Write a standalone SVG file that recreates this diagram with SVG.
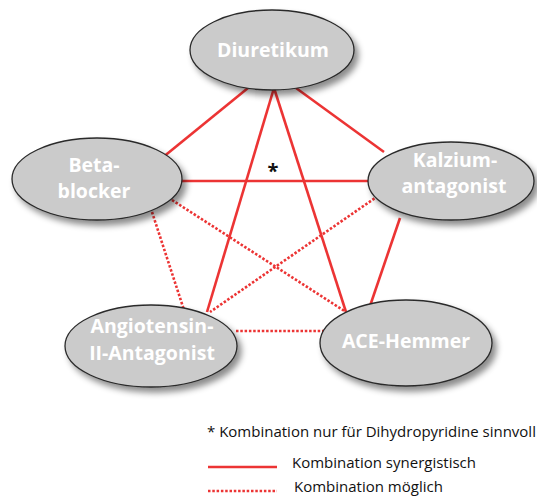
<svg xmlns="http://www.w3.org/2000/svg" width="537" height="497" viewBox="0 0 537 497">
<defs>
<filter id="sh" x="-20%" y="-20%" width="150%" height="160%">
<feDropShadow dx="4" dy="5" stdDeviation="3" flood-color="#000" flood-opacity="0.45"/>
</filter>
</defs>
<style>
.solid{stroke:#ec3434;stroke-width:2.6;fill:none}
.dot{stroke:#ec3434;stroke-width:2.6;fill:none;stroke-dasharray:2.5 1.8}
.node ellipse{fill:#cbcbcb;stroke:#2a2a2a;stroke-width:1.3;filter:url(#sh)}
.lbl{font-family:"Open Sans","DejaVu Sans",sans-serif;font-weight:bold;font-size:19.5px;fill:#ffffff;text-anchor:middle}
.leg{font-family:"Open Sans","DejaVu Sans",sans-serif;font-size:15px;fill:#111}
</style>
<rect width="537" height="497" fill="#ffffff"/>
<g id="connectors">
<line class="solid" x1="248" y1="88" x2="162" y2="158"/>
<line class="solid" x1="296" y1="88" x2="384" y2="152"/>
<line class="solid" x1="274" y1="88" x2="207" y2="312"/>
<line class="solid" x1="274" y1="88" x2="346" y2="312"/>
<line class="solid" x1="180" y1="181" x2="370" y2="181"/>
<line class="solid" x1="400" y1="218" x2="370" y2="306"/>
<line class="dot" x1="152" y1="212" x2="184" y2="310"/>
<line class="dot" x1="172" y1="200" x2="346" y2="312"/>
<line class="dot" x1="378" y1="196" x2="210" y2="312"/>
<line class="dot" x1="236" y1="331" x2="324" y2="331"/>
</g>
<g id="diuretikum" class="node">
<ellipse cx="272" cy="50" rx="82" ry="40"/>
<text class="lbl" x="273" y="57">Diuretikum</text>
</g>
<g id="betablocker" class="node">
<ellipse cx="97" cy="179" rx="85" ry="41"/>
<text class="lbl" x="94" y="172">Beta-</text>
<text class="lbl" x="94" y="198">blocker</text>
</g>
<g id="kalziumantagonist" class="node">
<ellipse cx="451" cy="181" rx="83" ry="39"/>
<text class="lbl" x="455" y="167">Kalzium-</text>
<text class="lbl" x="454" y="193">antagonist</text>
</g>
<g id="angiotensin" class="node">
<ellipse cx="151" cy="346" rx="86" ry="41"/>
<text class="lbl" x="152" y="333">Angiotensin-</text>
<text class="lbl" x="152" y="360">II-Antagonist</text>
</g>
<g id="acehemmer" class="node">
<ellipse cx="406" cy="343" rx="86" ry="43"/>
<text class="lbl" x="406" y="348">ACE-Hemmer</text>
</g>
<text x="273" y="178" font-family="'Open Sans','DejaVu Sans',sans-serif" font-weight="bold" font-size="20" fill="#111" text-anchor="middle">*</text>
<g id="legend">
<text class="leg" x="207" y="437">* Kombination nur für Dihydropyridine sinnvoll</text>
<line class="solid" x1="208" y1="467" x2="277" y2="467"/>
<text class="leg" x="292" y="468">Kombination synergistisch</text>
<line class="dot" x1="208" y1="491" x2="277" y2="491"/>
<text class="leg" x="294" y="492">Kombination möglich</text>
</g>
</svg>
